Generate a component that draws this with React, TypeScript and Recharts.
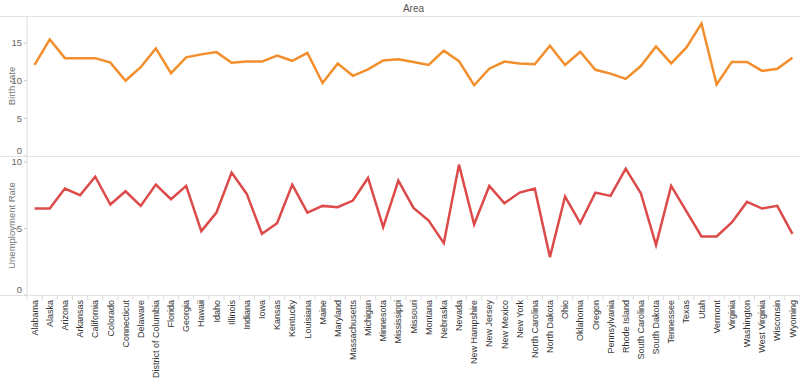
import React from 'react';
import { LineChart, Line, XAxis, YAxis } from 'recharts';

const states = [
  'Alabama', 'Alaska', 'Arizona', 'Arkansas', 'California', 'Colorado', 'Connecticut', 'Delaware',
  'District of Columbia', 'Florida', 'Georgia', 'Hawaii', 'Idaho', 'Illinois', 'Indiana', 'Iowa',
  'Kansas', 'Kentucky', 'Louisiana', 'Maine', 'Maryland', 'Massachusetts', 'Michigan', 'Minnesota',
  'Mississippi', 'Missouri', 'Montana', 'Nebraska', 'Nevada', 'New Hampshire', 'New Jersey',
  'New Mexico', 'New York', 'North Carolina', 'North Dakota', 'Ohio', 'Oklahoma', 'Oregon',
  'Pennsylvania', 'Rhode Island', 'South Carolina', 'South Dakota', 'Tennessee', 'Texas', 'Utah',
  'Vermont', 'Virginia', 'Washington', 'West Virginia', 'Wisconsin', 'Wyoming',
];

const birthRate = [
  12.1, 15.5, 13.0, 13.0, 13.0, 12.4, 10.0, 11.8, 14.3, 11.0, 13.1, 13.5, 13.8, 12.4, 12.55, 12.55,
  13.35, 12.65, 13.7, 9.7, 12.3, 10.65, 11.5, 12.7, 12.85, 12.5, 12.1, 14.0, 12.6, 9.4, 11.6,
  12.55, 12.3, 12.2, 14.65, 12.1, 13.85, 11.45, 10.95, 10.25, 11.95, 14.55, 12.3, 14.4, 17.6,
  9.5, 12.5, 12.5, 11.3, 11.6, 13.05,
];

const unemploymentRate = [
  6.5, 6.5, 8.0, 7.5, 8.9, 6.8, 7.8, 6.7, 8.3, 7.2, 8.2, 4.8, 6.2, 9.2, 7.6, 4.6,
  5.4, 8.3, 6.2, 6.7, 6.6, 7.1, 8.8, 5.1, 8.6, 6.55, 5.6, 3.9, 9.8, 5.3, 8.2,
  6.9, 7.7, 8.0, 2.85, 7.4, 5.4, 7.7, 7.45, 9.5, 7.65, 3.75, 8.2, 6.3, 4.4,
  4.4, 5.45, 7.0, 6.5, 6.7, 4.6,
];

const birthTicks = [0, 5, 10, 15];
const unemploymentTicks = [0, 5, 10];

const data = states.map((state, i) => ({
  state,
  birth: birthRate[i],
  unemployment: unemploymentRate[i],
}));

const FONT = '"Liberation Sans", Arial, sans-serif';
const HALF_STEP = 7.58;

const YTick = (props: any) => {
  const { x, y, payload } = props;
  const shift = payload.value === 0 ? -5 : 0;
  return (
    <text x={x} y={y + shift} dy="0.35em" textAnchor="end" fontSize={9.5} fill="#666" fontFamily={FONT}>
      {payload.value}
    </text>
  );
};

const StateTick = (props: any) => {
  const { x, y, payload, index } = props;
  const last = index === states.length - 1;
  return (
    <g transform={`translate(${x},${y})`}>
      <line x1={-HALF_STEP} x2={-HALF_STEP} y1={-5} y2={0} stroke="#ddd" />
      {last && <line x1={HALF_STEP} x2={HALF_STEP} y1={-5} y2={0} stroke="#ddd" />}
      <text
        transform="rotate(-90)"
        x={0}
        y={0}
        dy="0.35em"
        textAnchor="end"
        fontSize={9}
        fill="#333"
        fontFamily={FONT}
      >
        {payload.value}
      </text>
    </g>
  );
};

const hLine = (top: number): React.CSSProperties => ({
  position: 'absolute',
  left: 0,
  top,
  width: 800,
  height: 0,
  borderTop: '1px solid #e3e3e3',
});

export default function App() {
  return (
    <div style={{ position: 'absolute', left: 0, top: 0, width: 800, height: 389, background: '#fff', fontFamily: FONT }}>
      <div style={{ position: 'absolute', left: 27, top: 3, width: 773, textAlign: 'center', fontSize: 10, color: '#555' }}>
        Area
      </div>
      <div style={hLine(15.5)} />
      <div style={hLine(155.5)} />
      <div style={hLine(294.5)} />

      <div style={{ position: 'absolute', left: 0, top: 0 }}>
        <LineChart width={800} height={156} data={data} margin={{ top: 16, right: 0, bottom: 0, left: 0 }}>
          <XAxis dataKey="state" hide padding={{ left: HALF_STEP, right: HALF_STEP }} />
          <YAxis
            width={27}
            domain={[0, 18.6]}
            ticks={birthTicks}
            interval={0}
            tick={<YTick />}
            tickSize={3}
            tickMargin={2}
            axisLine={{ stroke: '#ddd' }}
            tickLine={{ stroke: '#ccc' }}
            label={{ value: 'Birth rate', angle: -90, position: 'center', dx: -1.5, fontSize: 9.5, fill: '#777', fontFamily: FONT }}
          />
          <Line type="linear" dataKey="birth" stroke="#f28e2b" strokeWidth={2.5} dot={false} isAnimationActive={false} />
        </LineChart>
      </div>

      <div style={{ position: 'absolute', left: 0, top: 156 }}>
        <LineChart width={800} height={233} data={data} margin={{ top: 0, right: 0, bottom: 0, left: 0 }}>
          <XAxis
            dataKey="state"
            height={94}
            interval={0}
            padding={{ left: HALF_STEP, right: HALF_STEP }}
            tick={<StateTick />}
            tickLine={false}
            tickSize={0}
            tickMargin={5}
            axisLine={false}
          />
          <YAxis
            width={27}
            domain={[0, 10.45]}
            ticks={unemploymentTicks}
            interval={0}
            tick={<YTick />}
            tickSize={3}
            tickMargin={2}
            axisLine={{ stroke: '#ddd' }}
            tickLine={{ stroke: '#ccc' }}
            label={{ value: 'Unemployment Rate', angle: -90, position: 'center', dx: -1.5, fontSize: 9.5, fill: '#777', fontFamily: FONT }}
          />
          <Line type="linear" dataKey="unemployment" stroke="#dc4a4a" strokeWidth={2.5} dot={false} isAnimationActive={false} />
        </LineChart>
      </div>
    </div>
  );
}
